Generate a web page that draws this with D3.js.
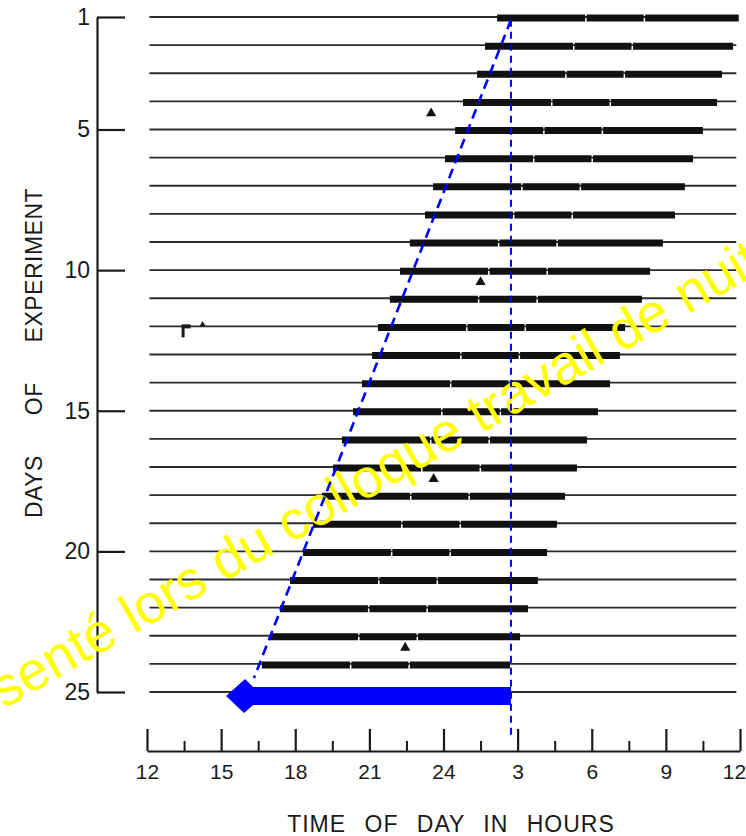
<!DOCTYPE html>
<html lang="en">
  <head>
    <meta charset="utf-8" />
    <title>Days of experiment</title>
    <script src="https://d3js.org/d3.v7.min.js"></script>
    <style>
      body { margin: 0; background: #fff; }
      #chart text { font-family: "Liberation Sans", Arial, sans-serif; fill: #1a1a1a; }
    </style>
  </head>
  <body>
    <div id="chart"></div>
    <script>
      // days of the experiment (one trace per day)
      const days = [1, 2, 3, 4, 5, 6, 7, 8, 9, 10, 11, 12, 13, 14, 15, 16, 17, 18, 19, 20, 21, 22, 23, 24, 25];
      // activity onset / offset, hours from noon of the day (24 = midnight, 27 = 3 am...)
      const onsetHours = [26.17, 25.68, 25.36, 24.79, 24.47, 24.06, 23.58, 23.25, 22.64, 22.24, 21.83, 21.35, 21.11,
        20.70, 20.34, 19.89, 19.53, 19.08, 18.72, 18.31, 17.79, 17.38, 16.98, 16.65, 16.25];
      const offsetHours = [35.95, 35.72, 35.27, 35.07, 34.50, 34.10, 33.77, 33.37, 32.88, 32.36, 32.03, 31.35, 31.14,
        30.74, 30.25, 29.81, 29.40, 28.92, 28.59, 28.19, 27.82, 27.42, 27.10, 26.69, 26.29];
      // triangle marks under some traces
      const markDays = [4, 10, 17, 23];
      const markHours = [23.5, 25.5, 23.6, 22.45];

      const dayTicks = [1, 5, 10, 15, 20, 25];
      const hourTicks = [12, 15, 18, 21, 24, 27, 30, 33, 36];
      const hourLabels = ["12", "15", "18", "21", "24", "3", "6", "9", "12"];
      const minorTicks = [13.5, 16.5, 19.5, 22.5, 25.5, 28.5, 31.5, 34.5];

      // blue annotation (drift line, 3 am reference, arrow)
      const refHour = 26.73;
      const driftFrom = [26.73, 1.1];
      const driftTo = [16.33, 24.5];
      const arrowTo = 15.2;

      const width = 746, height = 836;
      const traceStart = 12.1, traceEnd = 35.85;

      const x = d3.scaleLinear().domain([12, 36]).range([147, 740]);
      const y = d3.scaleLinear().domain([1, 25]).range([17, 692]);

      const svg = d3.select("#chart").append("svg")
        .attr("width", width).attr("height", height)
        .style("display", "block");

      // thin traces
      svg.append("g").selectAll("line").data(days).join("line")
        .attr("x1", x(traceStart)).attr("x2", x(traceEnd))
        .attr("y1", d => y(d)).attr("y2", d => y(d))
        .attr("stroke", "#2b2b2b").attr("stroke-width", 1.8);

      // activity bands
      svg.append("g").selectAll("line").data(days).join("line")
        .attr("x1", (d, i) => x(onsetHours[i])).attr("x2", (d, i) => x(offsetHours[i]))
        .attr("y1", d => y(d) + 1).attr("y2", d => y(d) + 1)
        .attr("stroke", "#111").attr("stroke-width", 7)
        .attr("stroke-dasharray", "88 1.5 57 1.5 112 2 70 1.5");

      // triangle marks
      svg.append("g").selectAll("path").data(markDays).join("path")
        .attr("d", d3.symbol(d3.symbolTriangle).size(45))
        .attr("transform", (d, i) => `translate(${x(markHours[i])},${y(d) + 12})`)
        .attr("fill", "#111");

      // small pen mark on day 12
      const pen = svg.append("g").attr("fill", "#1a1a1a");
      pen.append("rect").attr("x", x(13.4)).attr("y", y(12) - 2).attr("width", 9).attr("height", 4);
      pen.append("rect").attr("x", x(13.4)).attr("y", y(12)).attr("width", 3).attr("height", 11);
      pen.append("path").attr("d", d3.symbol(d3.symbolTriangle).size(14))
        .attr("transform", `translate(${x(14.25)},${y(12) - 2})`);

      // y axis
      const yAxis = svg.append("g")
        .attr("transform", "translate(97,0)")
        .call(d3.axisLeft(y).tickValues(dayTicks).tickSizeInner(-28).tickSizeOuter(0).tickPadding(7));
      yAxis.selectAll("path, line").attr("stroke", "#1a1a1a").attr("stroke-width", 2.2);
      yAxis.selectAll("text").style("font-size", "23px");

      // x axis, ticks pointing up
      const xAxis = svg.append("g")
        .attr("transform", "translate(0,751)")
        .call(d3.axisBottom(x).tickValues(hourTicks).tickFormat((d, i) => hourLabels[i])
          .tickSizeInner(-22).tickSizeOuter(0).tickPadding(13));
      xAxis.selectAll("path, line").attr("stroke", "#1a1a1a").attr("stroke-width", 2.2);
      xAxis.selectAll("text").style("font-size", "21px");
      xAxis.selectAll("text").filter(d => d === 36).attr("dx", "-6");

      const xMinor = svg.append("g")
        .attr("transform", "translate(0,751)")
        .call(d3.axisBottom(x).tickValues(minorTicks).tickFormat("").tickSizeInner(-10).tickSizeOuter(0));
      xMinor.select(".domain").remove();
      xMinor.selectAll("line").attr("stroke", "#1a1a1a").attr("stroke-width", 2);

      // axis titles
      svg.append("text")
        .attr("x", 451).attr("y", 832)
        .attr("text-anchor", "middle")
        .style("font-size", "23px").style("letter-spacing", "1px").style("word-spacing", "11px")
        .text("TIME OF DAY IN HOURS");

      svg.append("text")
        .attr("transform", "translate(42,353) rotate(-90)")
        .attr("text-anchor", "middle")
        .style("font-size", "23px").style("letter-spacing", "0.5px").style("word-spacing", "33px")
        .text("DAYS OF EXPERIMENT");

      // watermark
      svg.append("text")
        .attr("transform", "translate(-70,752) rotate(-30)")
        .style("font-size", "55px").style("fill", "#ffff00")
        .text("Présenté lors du colloque travail de nuit");

      // blue annotation
      const blue = svg.append("g").attr("stroke", "#0000ff").attr("fill", "none");
      blue.append("line")
        .attr("x1", x(refHour)).attr("x2", x(refHour))
        .attr("y1", y(1.1)).attr("y2", 735)
        .attr("stroke-width", 2).attr("stroke-dasharray", "7 5");
      blue.append("line")
        .attr("x1", x(driftFrom[0])).attr("y1", y(driftFrom[1]))
        .attr("x2", x(driftTo[0])).attr("y2", y(driftTo[1]))
        .attr("stroke-width", 2.6).attr("stroke-dasharray", "10 6");

      const ay = y(25) + 4, tip = x(arrowTo), back = x(refHour);
      blue.append("path")
        .attr("d", `M${tip},${ay} L${tip + 19},${ay - 17} L${tip + 27},${ay - 9} L${back},${ay - 9} ` +
          `L${back},${ay + 9} L${tip + 27},${ay + 9} L${tip + 18},${ay + 17} Z`)
        .attr("fill", "#0000ff").attr("stroke", "none");
    </script>
  </body>
</html>
